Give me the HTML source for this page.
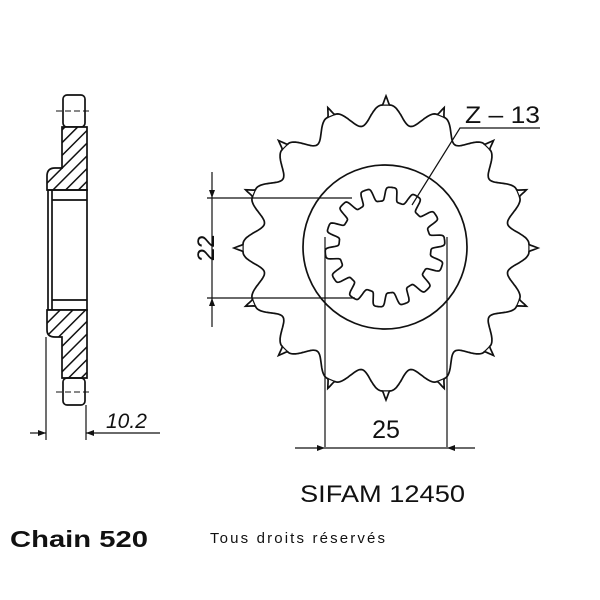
<!DOCTYPE html>
<html><head><meta charset="utf-8"><style>
html,body{margin:0;padding:0;background:#fff;width:600px;height:600px;overflow:hidden}
svg{display:block}
text{font-family:"Liberation Sans",Arial,sans-serif;fill:#111}
</style></head><body>
<svg id="s" width="600" height="600" viewBox="0 0 600 600" xmlns="http://www.w3.org/2000/svg">
<defs>
<pattern id="h" patternUnits="userSpaceOnUse" width="9" height="9" patternTransform="rotate(45)">
<rect width="9" height="9" fill="#fff"/><line x1="0" y1="0" x2="0" y2="9" stroke="#111" stroke-width="3"/>
</pattern>
</defs>
<g fill="none" stroke="#111" stroke-width="1.7">
<rect x="63" y="95" width="22" height="32" rx="4"/>
<line x1="56" y1="111" x2="92" y2="111" stroke-dasharray="6,3" stroke-width="1"/>
<path d="M62 127 H87 V190 H47 V176 Q47 168 55 168 H62 Z" fill="url(#h)"/>
<rect x="48" y="190" width="39" height="120"/>
<line x1="52" y1="200" x2="87" y2="200"/>
<line x1="52" y1="300" x2="87" y2="300"/>
<line x1="52" y1="190" x2="52" y2="310"/>
<path d="M62 378 H87 V310 H47 V330 Q47 337 55 337 H62 Z" fill="url(#h)"/>
<rect x="63" y="378" width="22" height="27" rx="4"/>
<line x1="56" y1="392" x2="92" y2="392" stroke-dasharray="6,3" stroke-width="1"/>
<line x1="46" y1="337" x2="46" y2="440" stroke-width="1.2"/>
<line x1="86" y1="405" x2="86" y2="440" stroke-width="1.2"/>
<line x1="30" y1="433" x2="46" y2="433" stroke-width="1.2"/>
<line x1="86" y1="433" x2="160" y2="433" stroke-width="1.2"/>
<line x1="207" y1="198" x2="352" y2="198" stroke-width="1.2"/>
<line x1="207" y1="298" x2="355" y2="298" stroke-width="1.2"/>
<line x1="212" y1="172" x2="212" y2="327" stroke-width="1.2"/>
<line x1="325" y1="237" x2="325" y2="447" stroke-width="1.2"/>
<line x1="447" y1="237" x2="447" y2="447" stroke-width="1.2"/>
<line x1="295" y1="448" x2="475" y2="448" stroke-width="1.2"/>
<polyline points="412,205 460,128 540,128" stroke-width="1.2"/>
<circle cx="385" cy="247" r="82"/>
<path id="sp"/>
<path id="spl"/>
<path id="tips" stroke-width="1.2"/>
</g>
<g fill="#111">
<path d="M212 198 l-3 -8 h6z M212 298 l-3 8 h6z M325 448 l-8 -3 v6z M447 448 l8 -3 v6z M46 433 l-8 -3 v6z M86 433 l8 -3 v6z"/>
</g>
<text x="465" y="123" font-size="24" textLength="75" lengthAdjust="spacingAndGlyphs">Z – 13</text>
<text x="206" y="248" font-size="24" text-anchor="middle" transform="rotate(-90 206 248)" dy="8">22</text>
<text x="386" y="438" font-size="25" text-anchor="middle">25</text>
<text x="106" y="428" font-size="21" font-style="italic">10.2</text>
<text x="300" y="502" font-size="24" textLength="165" lengthAdjust="spacingAndGlyphs">SIFAM 12450</text>
<text x="10" y="547" font-size="23" font-weight="bold" textLength="138" lengthAdjust="spacingAndGlyphs">Chain 520</text>
<text x="210" y="543" font-size="15" textLength="175" lengthAdjust="spacing">Tous droits réservés</text>
</svg>
<script>
var cx=386,cy=248,N=16,d="",t="";
for(var i=0;i<=960;i++){var a=i/960*2*Math.PI;var ph=(a*N/(2*Math.PI))%1;if(ph>0.5)ph-=1;
var u=Math.abs(ph)*2;var c=Math.min(1,Math.max(0,(u-0.15)/0.85));var g=(1+Math.cos(Math.PI*c))/2;
var r=124+19*g+9*Math.max(0,1-u/0.12);
var x=cx+r*Math.sin(a),y=cy-r*Math.cos(a);d+=(i?"L":"M")+x.toFixed(1)+" "+y.toFixed(1);}
document.getElementById("sp").setAttribute("d",d+"Z");
for(var k=0;k<N;k++){var a=k*2*Math.PI/N,r=143,w=0.035;
t+="M"+(cx+r*Math.sin(a-w)).toFixed(1)+" "+(cy-r*Math.cos(a-w)).toFixed(1)+"L"+(cx+r*Math.sin(a+w)).toFixed(1)+" "+(cy-r*Math.cos(a+w)).toFixed(1);}
document.getElementById("tips").setAttribute("d",t);
var e="";for(var i=0;i<=560;i++){var a=i/560*2*Math.PI;var r=53+7*Math.tanh(3*Math.sin(14*a));
e+=(i?"L":"M")+(385+r*Math.sin(a)).toFixed(1)+" "+(247-r*Math.cos(a)).toFixed(1);}
document.getElementById("spl").setAttribute("d",e+"Z");
</script>
</body></html>
